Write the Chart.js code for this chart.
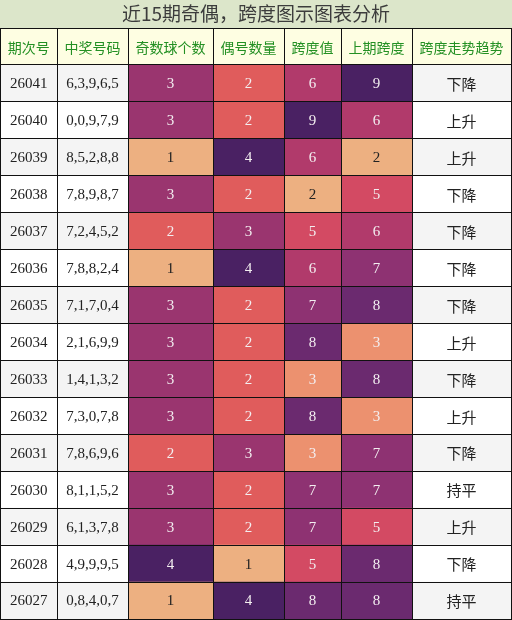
<!DOCTYPE html>
<html>
<head>
<meta charset="utf-8">
<script src="https://cdn.jsdelivr.net/npm/chart.js@4/dist/chart.umd.min.js"></script>
<style>
  body { margin: 0; background: #fff; }
  canvas { display: block; }
</style>
</head>
<body>
<canvas id="heatTable" width="512" height="620"></canvas>
<script>
// 表のデータ
const headers = ['期次号', '中奖号码', '奇数球个数', '偶号数量', '跨度值', '上期跨度', '跨度走势趋势'];
const periods = ['26041', '26040', '26039', '26038', '26037', '26036', '26035', '26034', '26033', '26032', '26031', '26030', '26029', '26028', '26027'];
const numbers = ['6,3,9,6,5', '0,0,9,7,9', '8,5,2,8,8', '7,8,9,8,7', '7,2,4,5,2', '7,8,8,2,4', '7,1,7,0,4', '2,1,6,9,9', '1,4,1,3,2', '7,3,0,7,8', '7,8,6,9,6', '8,1,1,5,2', '6,1,3,7,8', '4,9,9,9,5', '0,8,4,0,7'];
const oddCount = [3, 3, 1, 3, 2, 1, 3, 3, 3, 3, 2, 3, 3, 4, 1];
const evenCount = [2, 2, 4, 2, 3, 4, 2, 2, 2, 2, 3, 2, 2, 1, 4];
const span = [6, 9, 6, 2, 5, 6, 7, 8, 3, 8, 3, 7, 7, 5, 8];
const prevSpan = [9, 6, 2, 5, 6, 7, 8, 3, 8, 3, 7, 7, 5, 8, 8];
const trend = ['下降', '上升', '上升', '下降', '下降', '下降', '下降', '上升', '下降', '上升', '下降', '持平', '上升', '下降', '持平'];

// 列の境界 (x軸の単位 = px)
const colEdges = [0, 57, 128, 213, 284, 341, 412, 511];

// 色
const countColors = { 1: '#EDB081', 2: '#E05C5C', 3: '#9A356F', 4: '#4A2163' };
const spanColors = { 2: '#EDB081', 3: '#EC916F', 4: '#E66A5E', 5: '#D34A63', 6: '#B13A6B', 7: '#8E3272', 8: '#6B2A6F', 9: '#4A2163' };
const PEACH = '#EDB081';

const columns = [
    { values: periods, kind: 'plain' },
    { values: numbers, kind: 'plain' },
    { values: oddCount, kind: 'heat', colors: countColors },
    { values: evenCount, kind: 'heat', colors: countColors },
    { values: span, kind: 'heat', colors: spanColors },
    { values: prevSpan, kind: 'heat', colors: spanColors },
    { values: trend, kind: 'cjk' }
];

const rowLabels = ['header'].concat(periods);

function cellColor(col, rowIdx) {
    if (rowIdx === 0) return '#FEFEE2';
    const i = rowIdx - 1;
    if (col.kind === 'heat') return col.colors[col.values[i]];
    return i % 2 === 0 ? '#F4F4F4' : '#FFFFFF';
}

// 表を描画するデータセット
let datasets = [];
columns.forEach((col, c) => {
    datasets.push({
        label: headers[c],
        data: rowLabels.map(() => [colEdges[c], colEdges[c + 1]]),
        backgroundColor: ctx => cellColor(col, ctx.dataIndex),
        borderWidth: 0,
        grouped: false,
        barPercentage: 1,
        categoryPercentage: 1
    });
});

// タイトルの背景
const titleBackground = {
    id: 'titleBackground',
    beforeDraw(chart) {
        const ctx = chart.ctx;
        ctx.save();
        ctx.fillStyle = '#FFFFFF';
        ctx.fillRect(0, 0, chart.width, chart.height);
        ctx.fillStyle = '#DCE6CA';
        ctx.fillRect(0, 0, chart.width, chart.chartArea.top);
        ctx.restore();
    }
};

// セルの文字
const cellText = {
    id: 'cellText',
    afterDatasetsDraw(chart) {
        const ctx = chart.ctx;
        ctx.save();
        ctx.textAlign = 'center';
        ctx.textBaseline = 'middle';
        columns.forEach((col, c) => {
            const meta = chart.getDatasetMeta(c);
            meta.data.forEach((bar, r) => {
                const p = bar.getCenterPoint();
                let text, font, color;
                if (r === 0) {
                    text = headers[c];
                    font = '14px "Noto Sans CJK SC"';
                    color = '#239023';
                } else {
                    const v = col.values[r - 1];
                    text = String(v);
                    if (col.kind === 'cjk') {
                        font = '15px "Noto Sans CJK SC"';
                        color = '#222222';
                    } else {
                        font = '15px "Liberation Serif"';
                        color = '#222222';
                        if (col.kind === 'heat' && col.colors[v] !== PEACH) color = '#F3EEF0';
                    }
                }
                ctx.font = font;
                ctx.fillStyle = color;
                ctx.fillText(text, p.x, p.y + 1);
            });
        });
        ctx.restore();
    }
};

new Chart(document.getElementById('heatTable'), {
    type: 'bar',
    data: { labels: rowLabels, datasets: datasets },
    options: {
        responsive: false,
        animation: false,
        indexAxis: 'y',
        layout: { padding: { bottom: 1 } },
        scales: {
            x: {
                type: 'linear',
                min: 0,
                max: 512,
                afterBuildTicks: scale => {
                    scale.ticks = colEdges.map(v => ({ value: v }));
                },
                ticks: { display: false },
                grid: { color: '#111111', lineWidth: 1, drawTicks: false, z: 1 },
                border: { display: false }
            },
            y: {
                type: 'category',
                offset: true,
                ticks: { display: false },
                grid: { offset: true, color: '#111111', lineWidth: 1, drawTicks: false, z: 1 },
                border: { display: false }
            }
        },
        plugins: {
            legend: { display: false },
            tooltip: { enabled: false },
            title: {
                display: true,
                text: '近15期奇偶，跨度图示图表分析',
                color: '#3C3C3C',
                font: { family: '"Noto Sans CJK SC"', size: 19, weight: 'normal', lineHeight: '28px' },
                padding: 0
            }
        }
    },
    plugins: [titleBackground, cellText]
});
</script>
</body>
</html>
